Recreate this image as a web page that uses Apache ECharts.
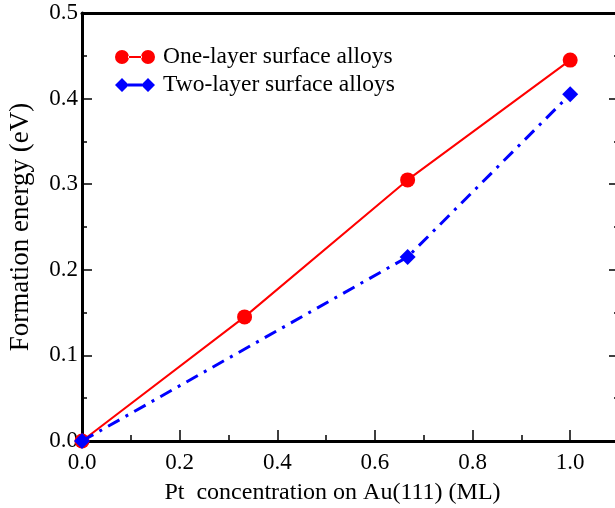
<!DOCTYPE html>
<html>
<head>
<meta charset="utf-8">
<script src="https://cdn.jsdelivr.net/npm/echarts@6/dist/echarts.min.js"></script>
<style>html,body{margin:0;padding:0;background:#fff;}#c{width:615px;height:508px;}</style>
</head>
<body>
<div id="c"></div>
<script>
const xTicks = [0.0, 0.2, 0.4, 0.6, 0.8, 1.0];
const yTicks = [0.0, 0.1, 0.2, 0.3, 0.4, 0.5];
const oneLayerX = [0.0, 0.333, 0.667, 1.0];
const oneLayerY = [0.0, 0.145, 0.305, 0.445];
const twoLayerX = [0.0, 0.667, 1.0];
const twoLayerY = [0.0, 0.215, 0.405];
const seriesNames = ['One-layer surface alloys', 'Two-layer surface alloys'];

const font = 'Liberation Serif';
const chart = echarts.init(document.getElementById('c'), null, {renderer: 'canvas'});
const circIcon = 'path://M0,7a7,7 0 1,0 14,0a7,7 0 1,0 -14,0Z M13,6L27,6L27,8L13,8Z M26,7a7,7 0 1,0 14,0a7,7 0 1,0 -14,0Z';
const diaIcon = 'path://M0,7L7,0L14,7L7,14Z M13,5.5L27,5.5L27,8.5L13,8.5Z M26,7L33,0L40,7L33,14Z';

chart.setOption({
  animation: false,
  backgroundColor: '#fff',
  grid: {left: 82, top: 13, width: 537, height: 428, containLabel: false, outerBoundsMode: 'none'},
  legend: {
    left: 115, top: 45, orient: 'vertical', itemGap: 4, padding: 0,
    itemWidth: 40, itemHeight: 15,
    textStyle: {fontFamily: font, fontSize: 23.5, color: '#000', padding: [0,0,0,3]},
    data: [
      {name: seriesNames[0], icon: circIcon, itemStyle: {color: '#ff0000'}},
      {name: seriesNames[1], icon: diaIcon, itemStyle: {color: '#0000ff'}}
    ]
  },
  xAxis: [{
    type: 'value', min: 0, max: 1.1, interval: 0.2,
    name: 'Pt  concentration on Au(111) (ML)', nameLocation: 'middle', nameGap: 40,
    nameTextStyle: {fontFamily: font, fontSize: 24, color: '#000', padding: [0, 36, 0, 0]},
    axisLine: {onZero: false, lineStyle: {color: '#000', width: 3}},
    axisTick: {inside: true, length: 11, lineStyle: {color: '#000', width: 1.5}},
    minorTick: {show: true, splitNumber: 2, length: 6, lineStyle: {color: '#000', width: 1.5}},
    axisLabel: {fontFamily: font, fontSize: 23, color: '#000', margin: 10,
      formatter: v => xTicks.some(t => Math.abs(t - v) < 1e-9) ? v.toFixed(1) : ''},
    splitLine: {show: false}
  }, {
    type: 'value', min: 0, max: 1.1, position: 'top',
    axisLine: {show: true, onZero: false, lineStyle: {color: '#000', width: 3}},
    axisTick: {show: false}, axisLabel: {show: false}, splitLine: {show: false}
  }],
  yAxis: [{
    type: 'value', min: 0, max: 0.5, interval: 0.1,
    name: 'Formation energy (eV)', nameLocation: 'middle', nameGap: 48,
    nameTextStyle: {fontFamily: font, fontSize: 27, color: '#000'},
    axisLine: {onZero: false, lineStyle: {color: '#000', width: 3}},
    axisTick: {inside: true, length: 10, lineStyle: {color: '#000', width: 1.5}},
    minorTick: {show: true, splitNumber: 2, length: 5, lineStyle: {color: '#000', width: 1.5}},
    axisLabel: {fontFamily: font, fontSize: 23, color: '#000', margin: 4,
      formatter: v => yTicks.some(t => Math.abs(t - v) < 1e-9) ? v.toFixed(1) : ''},
    splitLine: {show: false}
  }, {
    type: 'value', min: 0, max: 0.5, interval: 0.1, position: 'right',
    axisLine: {show: true, onZero: false, lineStyle: {color: '#000', width: 3}},
    axisTick: {inside: true, length: 10, lineStyle: {color: '#000', width: 1.5}},
    minorTick: {show: true, splitNumber: 2, length: 5, lineStyle: {color: '#000', width: 1.5}},
    axisLabel: {show: false}, splitLine: {show: false}
  }],
  series: [{
    name: seriesNames[0], type: 'line',
    data: oneLayerX.map((x, i) => [x, oneLayerY[i]]),
    symbol: 'circle', symbolSize: 15,
    itemStyle: {color: '#ff0000'},
    lineStyle: {color: '#ff0000', width: 2},
    z: 3
  }, {
    name: seriesNames[1], type: 'line',
    data: twoLayerX.map((x, i) => [x, twoLayerY[i]]),
    symbol: 'diamond', symbolSize: [16, 16],
    itemStyle: {color: '#0000ff'},
    lineStyle: {color: '#0000ff', width: 3, type: [13, 7, 3, 7]},
    z: 4
  }]
});
</script>
</body>
</html>
